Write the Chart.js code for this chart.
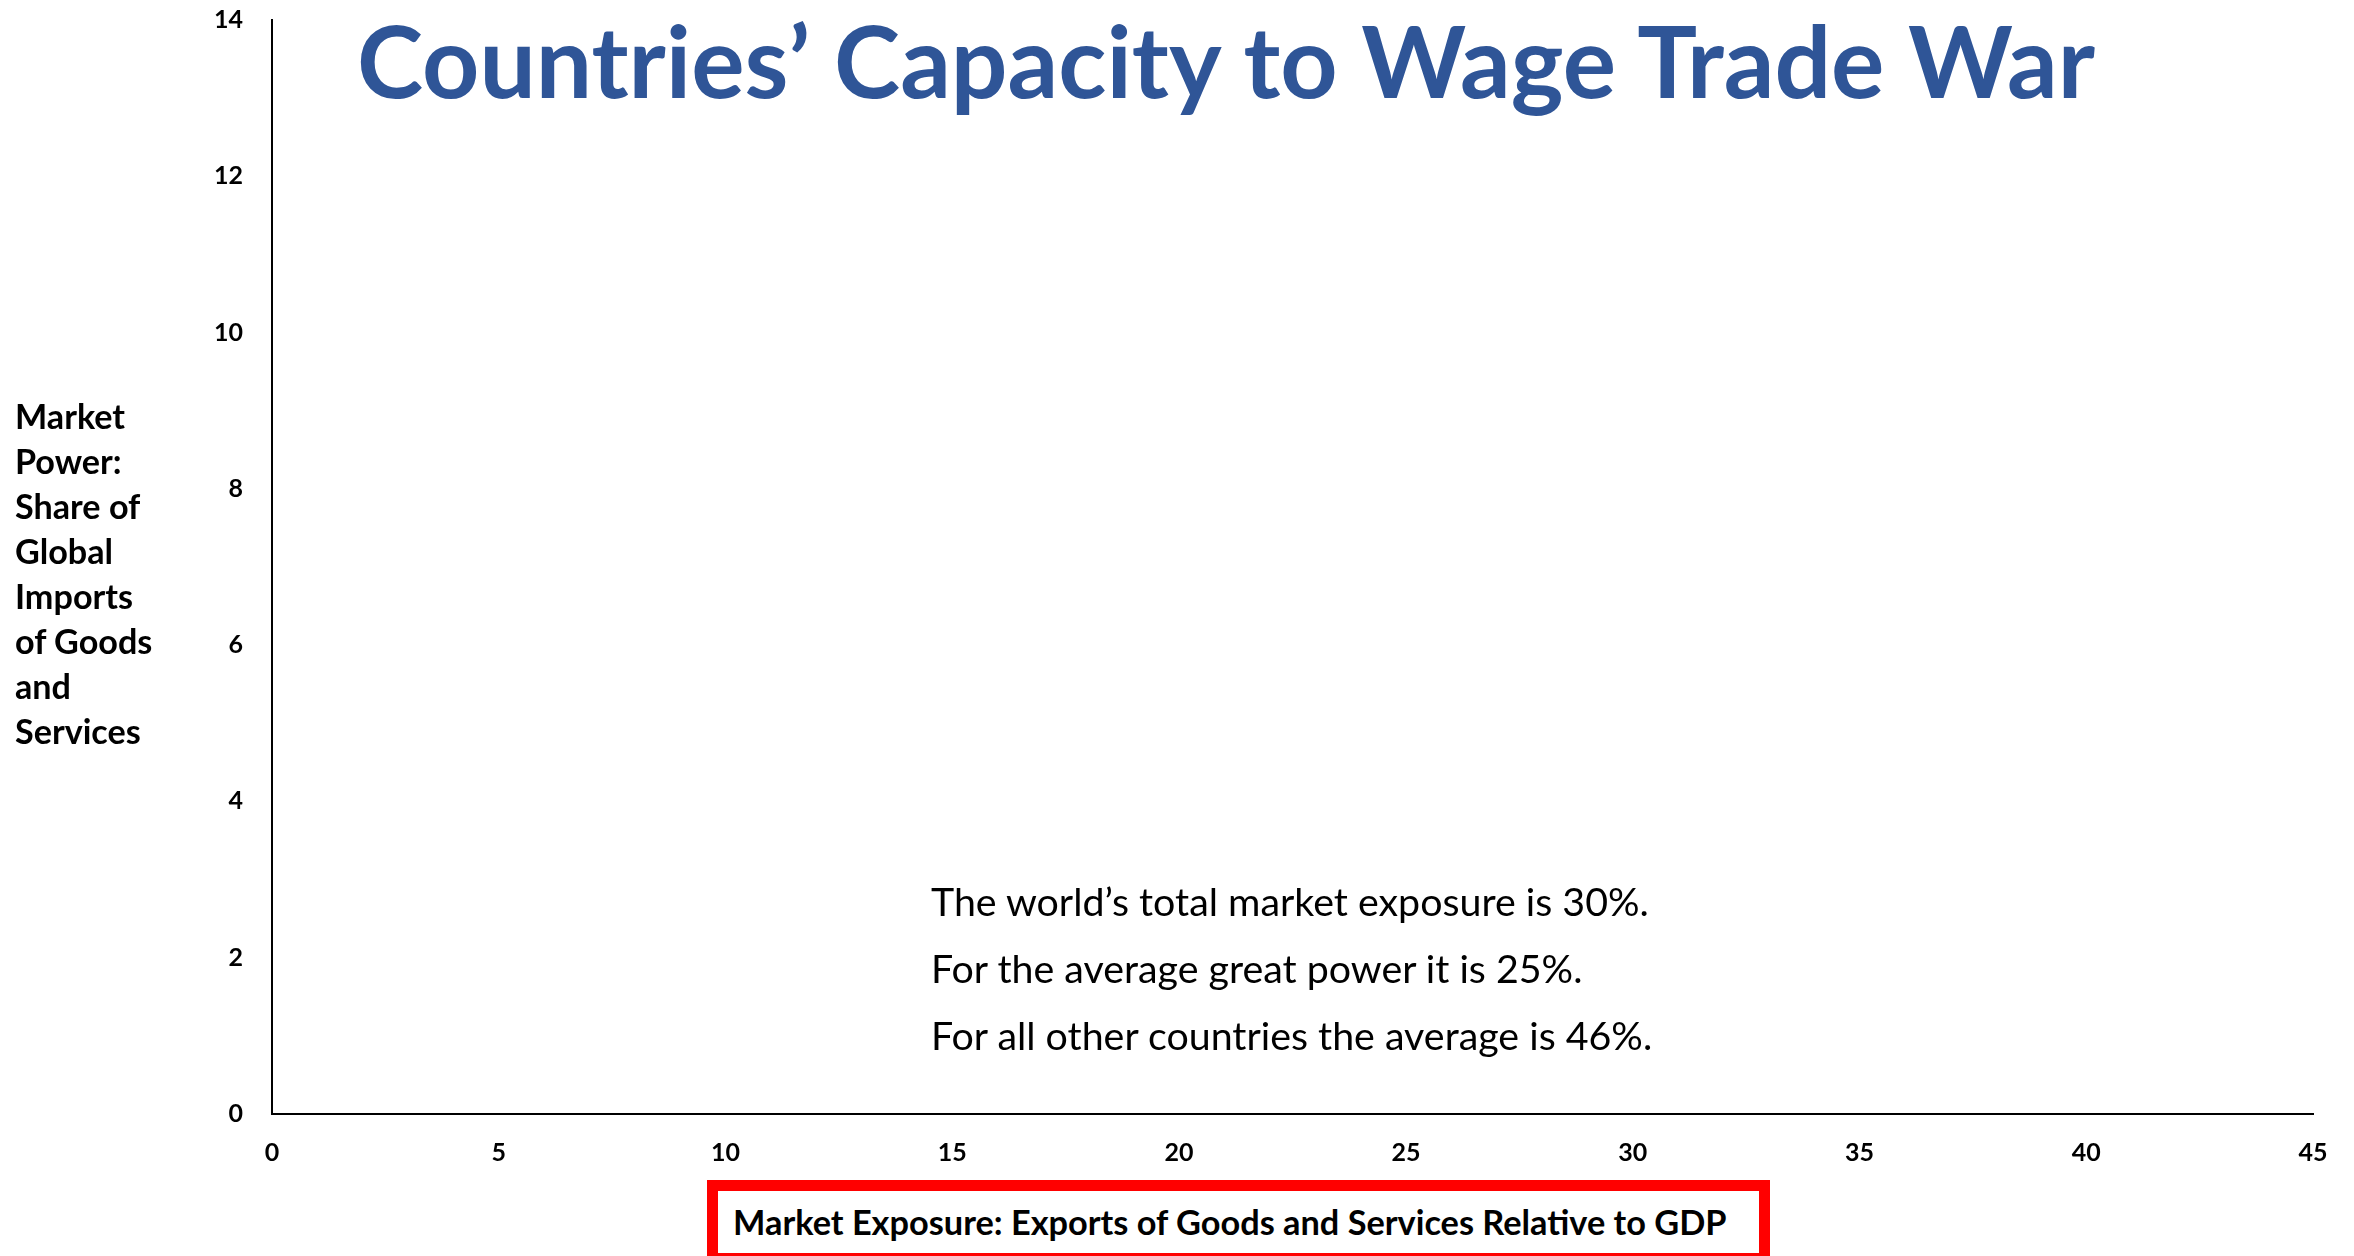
<!DOCTYPE html>
<html><head><meta charset="utf-8">
<script src="https://cdn.jsdelivr.net/npm/chart.js@4.4.1/dist/chart.umd.min.js"></script>
<style>
html,body{margin:0;padding:0;background:#fff;overflow:hidden}
#wrap{position:relative;width:2354px;height:1256px;background:#fff}
canvas{position:absolute;left:0;top:0}
.t{position:absolute;white-space:nowrap;font-family:Lato,"Open Sans",sans-serif;line-height:1;color:#000}
#title{left:357px;top:60px;transform:translateY(-50%);color:#2F5597;font-weight:bold}
#ytitle{left:15px;top:393px;font-weight:bold;line-height:45px;white-space:pre}
#notes{left:931px;top:867px;line-height:67px;white-space:pre}
#xbox{position:absolute;left:707px;top:1180px;width:1063px;height:84px;border:11px solid #ff0000;box-sizing:border-box;background:#fff}
#xtitle{left:733px;top:1222px;transform:translateY(-50%);font-weight:bold}
</style></head><body>
<div id="wrap">
<canvas id="c" width="2354" height="1256"></canvas>
<div id="title" class="t"></div>
<div id="ytitle" class="t"></div>
<div id="notes" class="t"></div>
<div id="xbox"></div>
<div id="xtitle" class="t"></div>
</div>
<script>
// ---- data ----
const chartTitle = "Countries’ Capacity to Wage Trade War";
const xAxisTitle = "Market Exposure: Exports of Goods and Services Relative to GDP";
const yAxisTitleLines = ["Market", "Power:", "Share of", "Global", "Imports", "of Goods", "and", "Services"];
const noteLines = [
  "The world’s total market exposure is 30%.",
  "For the average great power it is 25%.",
  "For all other countries the average is 46%."
];
const xTicks = [0, 5, 10, 15, 20, 25, 30, 35, 40, 45];
const yTicks = [0, 2, 4, 6, 8, 10, 12, 14];
// the reference plots no country points
const countries = [];
const exposure = [];
const marketPower = [];

// ---- text ----
document.getElementById('title').textContent = chartTitle;
document.getElementById('xtitle').textContent = xAxisTitle;
document.getElementById('ytitle').textContent = yAxisTitleLines.join("\n");
document.getElementById('notes').textContent = noteLines.join("\n");

function fitWidth(el, target, base) {
  el.style.fontSize = base + 'px';
  const w = el.getBoundingClientRect().width;
  el.style.fontSize = (base * target / w) + 'px';
}
function fitLine(el, line, target, base, weight) {
  const c = document.createElement('canvas').getContext('2d');
  c.font = (weight || 'normal') + ' ' + base + 'px Lato';
  const w = c.measureText(line).width;
  el.style.fontSize = (base * target / w) + 'px';
}

function draw() {
  fitWidth(document.getElementById('title'), 1738, 100);
  fitWidth(document.getElementById('xtitle'), 994, 34);
  fitLine(document.getElementById('ytitle'), "of Goods", 138, 30, 'bold');
  fitLine(document.getElementById('notes'), noteLines[2], 723, 36, 'normal');

  const points = countries.map((c, i) => ({x: exposure[i], y: marketPower[i], label: c}));
  const tickFont = {family: 'Lato', weight: 'bold', size: 25};
  new Chart(document.getElementById('c').getContext('2d'), {
    type: 'scatter',
    data: {datasets: [{label: 'Countries', data: points, backgroundColor: '#2F5597', pointRadius: 8}]},
    options: {
      responsive: false,
      animation: false,
      layout: {padding: {top: 20, right: 41, left: 0, bottom: 0}},
      plugins: {legend: {display: false}, tooltip: {enabled: false}, title: {display: false}},
      scales: {
        x: {
          type: 'linear', min: xTicks[0], max: xTicks[xTicks.length - 1],
          afterBuildTicks: s => { s.ticks = xTicks.map(v => ({value: v})); },
          afterFit: s => { s.height = 142; s.paddingLeft = 0; s.paddingRight = 0; },
          grid: {display: false, drawTicks: false},
          border: {display: true, color: '#000', width: 2},
          ticks: {color: '#000', font: tickFont, padding: 24, maxRotation: 0, autoSkip: false}
        },
        y: {
          type: 'linear', min: yTicks[0], max: yTicks[yTicks.length - 1],
          afterBuildTicks: s => { s.ticks = yTicks.map(v => ({value: v})); },
          afterFit: s => { s.width = 272; s.paddingTop = 0; s.paddingBottom = 0; },
          grid: {display: false, drawTicks: false},
          border: {display: true, color: '#000', width: 2},
          ticks: {color: '#000', font: tickFont, padding: 29, autoSkip: false}
        }
      }
    }
  });
}
if (document.fonts && document.fonts.ready) document.fonts.ready.then(draw); else draw();
</script>
</body></html>
